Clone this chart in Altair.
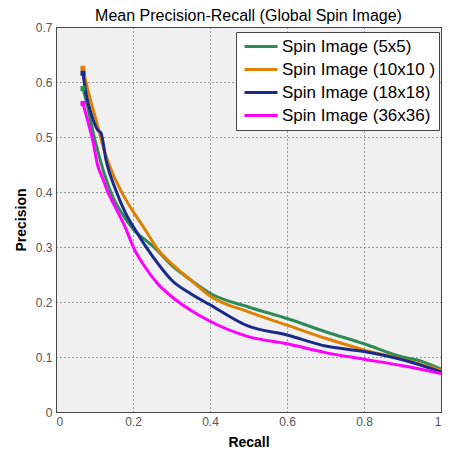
import altair as alt
import pandas as pd

series_names = ["Spin Image (5x5)", "Spin Image (10x10 )", "Spin Image (18x18)", "Spin Image (36x36)"]
colors = ["#2e8b57", "#e08000", "#1a2a8a", "#ff00ff"]

green_x = [0.07, 0.083, 0.096, 0.108, 0.125, 0.147, 0.177, 0.206, 0.232, 0.257, 0.3, 0.35, 0.4, 0.5, 0.6, 0.7, 0.8, 0.9, 0.95, 1.0]
green_y = [0.588, 0.552, 0.510, 0.476, 0.434, 0.392, 0.355, 0.328, 0.313, 0.298, 0.267, 0.24, 0.216, 0.191, 0.170, 0.146, 0.124, 0.10, 0.092, 0.078]

orange_x = [0.07, 0.083, 0.104, 0.125, 0.147, 0.172, 0.198, 0.232, 0.262, 0.3, 0.35, 0.4, 0.5, 0.6, 0.7, 0.8, 0.9, 1.0]
orange_y = [0.625, 0.585, 0.531, 0.476, 0.434, 0.398, 0.367, 0.331, 0.298, 0.27, 0.24, 0.211, 0.182, 0.158, 0.134, 0.113, 0.096, 0.076]

blue_x = [0.07, 0.078, 0.091, 0.108, 0.117, 0.13, 0.155, 0.181, 0.206, 0.236, 0.27, 0.3, 0.35, 0.4, 0.5, 0.6, 0.7, 0.8, 0.9, 1.0]
blue_y = [0.616, 0.579, 0.543, 0.513, 0.507, 0.458, 0.404, 0.361, 0.331, 0.298, 0.265, 0.24, 0.215, 0.195, 0.156, 0.14, 0.12, 0.11, 0.095, 0.073]

magenta_x = [0.07, 0.083, 0.096, 0.108, 0.121, 0.134, 0.155, 0.181, 0.202, 0.23, 0.262, 0.3, 0.35, 0.4, 0.5, 0.6, 0.7, 0.8, 0.9, 1.0]
magenta_y = [0.561, 0.528, 0.492, 0.449, 0.425, 0.401, 0.371, 0.334, 0.298, 0.265, 0.235, 0.21, 0.185, 0.165, 0.137, 0.124, 0.108, 0.096, 0.084, 0.070]

x_ticks = [0, 0.2, 0.4, 0.6, 0.8, 1]
y_ticks = [0, 0.1, 0.2, 0.3, 0.4, 0.5, 0.6, 0.7]

rows = []
for name, xs, ys in zip(series_names,
                        [green_x, orange_x, blue_x, magenta_x],
                        [green_y, orange_y, blue_y, magenta_y]):
    for i, (x, y) in enumerate(zip(xs, ys)):
        rows.append({"Series": name, "Recall": x, "Precision": y, "order": i})
df = pd.DataFrame(rows)

color_scale = alt.Scale(domain=series_names, range=colors)

x_enc = alt.X("Recall:Q", scale=alt.Scale(domain=[0, 1], nice=False),
              axis=alt.Axis(values=x_ticks, format="~g", title="Recall"))
y_enc = alt.Y("Precision:Q", scale=alt.Scale(domain=[0, 0.7], nice=False),
              axis=alt.Axis(values=y_ticks, format="~g", title="Precision"))

lines = alt.Chart(df).mark_line(strokeWidth=3, interpolate="monotone").encode(
    x=x_enc,
    y=y_enc,
    order="order:Q",
    color=alt.Color("Series:N", scale=color_scale, sort=series_names,
                    legend=alt.Legend(title=None, orient="none", legendX=180, legendY=5,
                                      symbolType="stroke", symbolSize=1089, symbolStrokeWidth=3,
                                      labelFontSize=17, labelFont="Liberation Sans", labelColor="#000",
                                      fillColor="white", strokeColor="#444", padding=3,
                                      symbolOffset=4,
                                      clipHeight=23, rowPadding=0, labelOffset=3, labelLimit=300)),
)

starts = alt.Chart(df).transform_filter("datum.order == 0").mark_square(size=25, opacity=1).encode(
    x="Recall:Q", y="Precision:Q",
    color=alt.Color("Series:N", scale=color_scale, sort=series_names, legend=None),
)

chart = alt.layer(lines, starts).properties(
    width=385, height=385,
    title=alt.TitleParams("Mean Precision-Recall (Global Spin Image)", fontSize=16,
                          font="Liberation Sans", fontWeight="normal", color="#000",
                          offset=3, dy=6),
    autosize=alt.AutoSizeParams(type="none"),
    padding={"left": 48, "top": 19, "right": 1, "bottom": 36},
).configure(background="white").configure_view(
    fill="#f0f0f0", stroke="#444", strokeWidth=1
).configure_axis(
    grid=True, gridDash=[1, 3], gridColor="#444", gridOpacity=1, gridWidth=1,
    domain=False, ticks=False,
    labelFont="Liberation Sans", labelFontSize=12, labelColor="#555", labelPadding=4,
    titleFont="Liberation Sans", titleFontSize=14, titleFontWeight="bold", titleColor="#000",
).configure_axisX(titlePadding=8).configure_axisY(titlePadding=7)

chart.save("out.html", embed_options={"renderer": "svg", "actions": False})
